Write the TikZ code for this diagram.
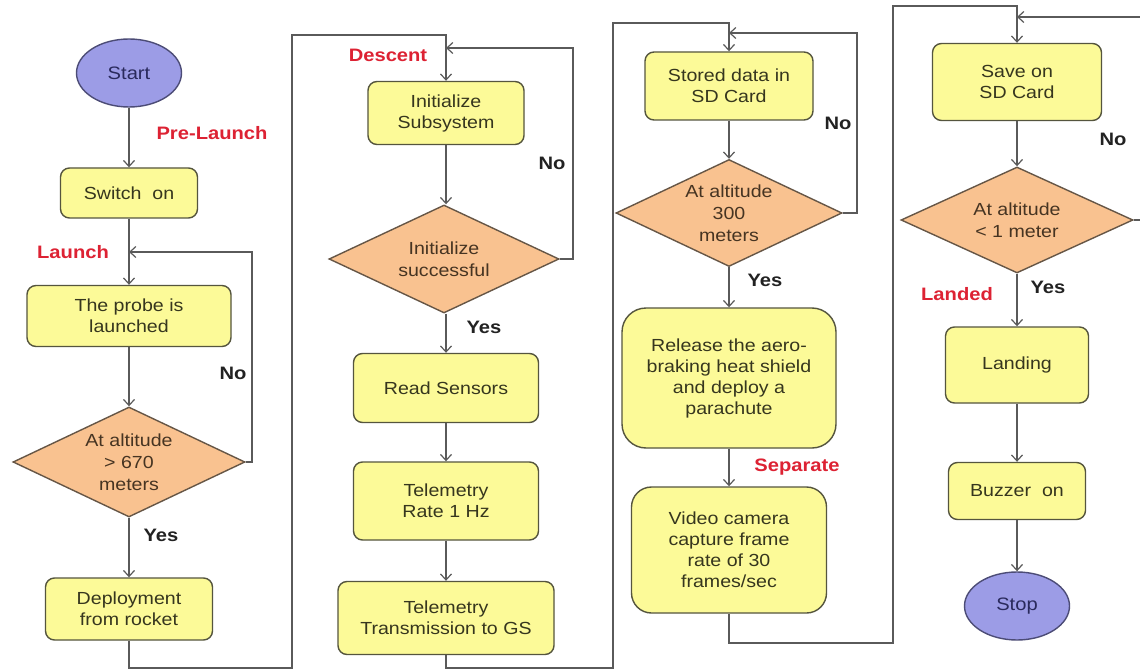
\documentclass[tikz,border=0pt]{standalone}
\usepackage{fontspec}
\setmainfont{Liberation Sans}[FakeStretch=1.12]
\usetikzlibrary{shapes.geometric,arrows.meta}

\definecolor{boxfill}{HTML}{FCFA98}
\definecolor{boxline}{HTML}{55553E}
\definecolor{decfill}{HTML}{F9C290}
\definecolor{decline}{HTML}{665646}
\definecolor{termfill}{HTML}{9C9CE6}
\definecolor{termline}{HTML}{4C4C76}
\definecolor{linec}{HTML}{5A5A5A}
\definecolor{boxtext}{HTML}{36361E}
\definecolor{dectext}{HTML}{463422}
\definecolor{termtext}{HTML}{2A2A5C}
\definecolor{phase}{HTML}{DD2233}
\definecolor{answer}{HTML}{222222}

\tikzset{
  proc/.style={rectangle, rounded corners=9pt, draw=boxline, fill=boxfill,
    line width=1.4pt, align=center, inner sep=0pt, text=boxtext,
    font=\fontsize{17.5}{21}\selectfont},
  dec/.style={diamond, aspect=2.1, draw=decline, fill=decfill,
    line width=1.4pt, align=center, inner sep=0pt, text=dectext,
    font=\fontsize{17.5}{22}\selectfont},
  term/.style={ellipse, draw=termline, fill=termfill, line width=1.4pt,
    inner sep=0pt, minimum width=105pt, minimum height=68pt, text=termtext,
    font=\fontsize{18}{21}\selectfont},
  arr/.style={draw=linec, line width=1.4pt,
    -{Straight Barb[length=6pt,width=11pt,line width=1.2pt]}},
  phaselbl/.style={text=phase, font=\fontsize{18}{21}\selectfont\bfseries},
  anslbl/.style={text=answer, font=\fontsize{18}{21}\selectfont\bfseries}
}

\begin{document}
\begin{tikzpicture}[x=1pt,y=-1pt]
\clip (0,0) rectangle (1140,671);
\fill[white] (0,0) rectangle (1140,671);

% ---------- Pre-launch and launch ----------
\node[term] (start) at (129,73) {Start};
\node[proc, minimum width=137pt, minimum height=50pt] (switch) at (129,193) {Switch\ \ on};
\node[proc, minimum width=204pt, minimum height=61pt] (probe) at (129,316) {The probe is\\launched};
\node[dec, minimum width=232pt, minimum height=110pt] (dia1) at (129,462) {At altitude\\> 670\\meters};
\node[proc, minimum width=167pt, minimum height=62pt] (deploy) at (129,609) {Deployment\\from rocket};

% ---------- Descent ----------
\node[proc, minimum width=156pt, minimum height=63pt] (init) at (446,113) {Initialize\\Subsystem};
\node[dec, minimum width=230pt, minimum height=108pt] (dia2) at (444,259) {Initialize\\successful};
\node[proc, minimum width=185pt, minimum height=69pt] (read) at (446,388) {Read Sensors};
\node[proc, minimum width=185pt, minimum height=78pt] (rate) at (446,501) {Telemetry\\Rate 1 Hz};
\node[proc, minimum width=216pt, minimum height=73pt] (tx) at (446,618) {Telemetry\\Transmission to GS};

% ---------- Separation ----------
\node[proc, minimum width=168pt, minimum height=68pt] (stored) at (729,86) {Stored data in\\SD Card};
\node[dec, minimum width=226pt, minimum height=107pt] (dia3) at (729,213) {At altitude\\300\\meters};
\node[proc, rounded corners=24pt, minimum width=214pt, minimum height=140pt] (release) at (729,378)
  {Release the aero-\\braking heat shield\\and deploy a\\parachute};
\node[proc, rounded corners=20pt, minimum width=195pt, minimum height=126pt] (video) at (729,550)
  {Video camera\\capture frame\\rate of 30\\frames/sec};

% ---------- Landing ----------
\node[proc, minimum width=169pt, minimum height=77pt] (save) at (1017,82) {Save on\\SD Card};
\node[dec, minimum width=232pt, minimum height=106pt] (dia4) at (1017,220) {At altitude\\< 1 meter};
\node[proc, minimum width=143pt, minimum height=76pt] (landing) at (1017,365) {Landing};
\node[proc, minimum width=137pt, minimum height=57pt] (buzzer) at (1017,491) {Buzzer\ \ on};
\node[term] (stop) at (1017,606) {Stop};

% ---------- phase names ----------
\node[phaselbl] (lblpre) at (212,133) {Pre-Launch};
\node[phaselbl] (lbllaunch) at (73,252) {Launch};
\node[phaselbl] (lbldescent) at (388,55) {Descent};
\node[phaselbl] (lblsep) at (797,467) {Separate};
\node[phaselbl] (lbllanded) at (957,294) {Landed};

% ---------- answers ----------
\node[anslbl] (no1) at (233,373) {No};
\node[anslbl] (yes1) at (161,535) {Yes};
\node[anslbl] (no2) at (552,163) {No};
\node[anslbl] (yes2) at (484,327) {Yes};
\node[anslbl] (no3) at (838,123) {No};
\node[anslbl] (yes3) at (765,280) {Yes};
\node[anslbl] (no4) at (1113,139) {No};
\node[anslbl] (yes4) at (1048,287) {Yes};

% ---------- bend points ----------
\coordinate (c1) at (252,252);
\coordinate (j1) at (129,252);
\coordinate (b1) at (292,668);
\coordinate (t1) at (446,35);
\coordinate (c2) at (573,48);
\coordinate (j2) at (446,48);
\coordinate (b2) at (613,668);
\coordinate (t2) at (729,23);
\coordinate (c3) at (857,33);
\coordinate (j3) at (729,33);
\coordinate (b3) at (893,643);
\coordinate (t3) at (1017,6);
\coordinate (c4) at (1150,17);
\coordinate (j4) at (1017,17);

% ---------- connectors ----------
\draw[arr] (start) -- (switch);
\draw[arr] (switch) -- (probe);
\draw[arr] (probe) -- (dia1);
\draw[arr] (dia1.east) -| (c1) -- (j1);
\draw[arr] (dia1) -- (deploy);
\draw[arr] (deploy.south) |- (b1) |- (t1) -- (init.north);

\draw[arr] (init) -- (dia2.north -| init.south);
\draw[arr] (dia2.east) -| (c2) -- (j2);
\draw[arr] (dia2.south -| read.north) -- (read);
\draw[arr] (read) -- (rate);
\draw[arr] (rate) -- (tx);
\draw[arr] (tx.south) |- (b2) |- (t2) -- (stored.north);

\draw[arr] (stored) -- (dia3);
\draw[arr] (dia3.east) -| (c3) -- (j3);
\draw[arr] (dia3) -- (release);
\draw[arr] (release) -- (video);
\draw[arr] (video.south) |- (b3) |- (t3) -- (save.north);

\draw[arr] (save) -- (dia4);
\draw[arr] (dia4.east) -| (c4) -- (j4);
\draw[arr] (dia4) -- (landing);
\draw[arr] (landing) -- (buzzer);
\draw[arr] (buzzer) -- (stop);
\end{tikzpicture}
\end{document}
